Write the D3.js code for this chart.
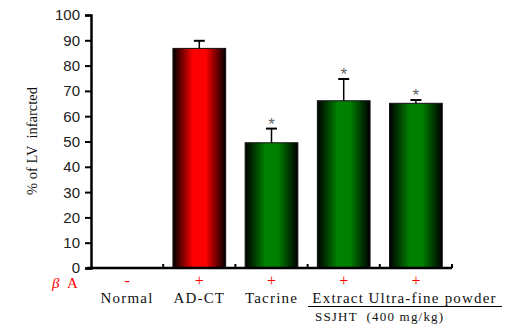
<!DOCTYPE html>
<html>
<head>
<meta charset="utf-8">
<script src="https://cdn.jsdelivr.net/npm/d3@7"></script>
<style>
  body { margin: 0; background: #fff; }
  svg { display: block; }
</style>
</head>
<body>
<div id="chart"></div>
<script>
// data
var groups = ["Normal", "AD-CT", "Tacrine", "Extract", "Ultra-fine powder"];
var betaA = ["-", "+", "+", "+", "+"];
var means = [0, 86.8, 49.5, 66.1, 65.1];
var errors = [0, 3.0, 5.6, 8.6, 1.3];
var colors = ["none", "red", "green", "green", "green"];
var starred = [false, false, true, true, true];
var yTicks = [0, 10, 20, 30, 40, 50, 60, 70, 80, 90, 100];

var width = 505, height = 326;
var margin = { top: 15, right: 53, bottom: 58, left: 91 };
var serif = 'Liberation Serif, Times New Roman, serif';

var svg = d3.select('#chart')
    .append('svg')
    .attr('width', width)
    .attr('height', height);

// horizontal gradients: dark edges, bright middle
var defs = svg.append('defs');
[["red", "#ff0000"], ["green", "#008000"]].forEach(function(c) {
    var g = defs.append('linearGradient')
        .attr('id', 'grad-' + c[0])
        .attr('x1', '0%').attr('x2', '100%')
        .attr('y1', '0%').attr('y2', '0%');
    g.append('stop').attr('offset', '0%').attr('stop-color', '#000');
    g.append('stop').attr('offset', '38%').attr('stop-color', c[1]);
    g.append('stop').attr('offset', '62%').attr('stop-color', c[1]);
    g.append('stop').attr('offset', '100%').attr('stop-color', '#000');
});

var x = d3.scaleBand()
    .domain(groups)
    .range([margin.left, width - margin.right])
    .paddingInner(0.27)
    .paddingOuter(0.135);

var y = d3.scaleLinear()
    .domain([0, 100])
    .range([height - margin.bottom, margin.top]);

// bars
var bars = groups.map(function(g, i) {
    return { name: g, mean: means[i], err: errors[i], color: colors[i], star: starred[i] };
}).filter(function(d) { return d.mean > 0; });

svg.selectAll('.bar')
    .data(bars)
    .enter()
    .append('rect')
    .attr('class', 'bar')
    .attr('x', function(d) { return x(d.name); })
    .attr('width', x.bandwidth())
    .attr('y', function(d) { return y(d.mean); })
    .attr('height', function(d) { return y(0) - y(d.mean); })
    .attr('fill', function(d) { return 'url(#grad-' + d.color + ')'; })
    .attr('stroke', '#111')
    .attr('stroke-width', 1);

// error bars
var cx = function(d) { return x(d.name) + x.bandwidth() / 2; };
svg.selectAll('.err')
    .data(bars)
    .enter()
    .append('line')
    .attr('x1', cx).attr('x2', cx)
    .attr('y1', function(d) { return y(d.mean); })
    .attr('y2', function(d) { return y(d.mean + d.err); })
    .attr('stroke', '#000')
    .attr('stroke-width', 1.5);

svg.selectAll('.cap')
    .data(bars)
    .enter()
    .append('line')
    .attr('x1', function(d) { return cx(d) - 5.5; })
    .attr('x2', function(d) { return cx(d) + 5.5; })
    .attr('y1', function(d) { return y(d.mean + d.err); })
    .attr('y2', function(d) { return y(d.mean + d.err); })
    .attr('stroke', '#000')
    .attr('stroke-width', 2);

svg.selectAll('.star')
    .data(bars.filter(function(d) { return d.star; }))
    .enter()
    .append('text')
    .attr('x', cx)
    .attr('y', function(d) { return y(d.mean + d.err) + 1; })
    .attr('text-anchor', 'middle')
    .attr('font-family', 'Liberation Sans, Arial, sans-serif')
    .attr('font-size', 17)
    .attr('fill', '#666')
    .text('*');

// y axis
var yAxis = d3.axisLeft(y)
    .tickValues(yTicks)
    .tickSize(6)
    .tickPadding(5);

var gy = svg.append('g')
    .attr('transform', 'translate(' + margin.left + ',0)')
    .call(yAxis);
gy.select('.domain').attr('stroke', '#000').attr('stroke-width', 2.5);
gy.selectAll('.tick line').attr('stroke', '#000').attr('stroke-width', 2);
gy.selectAll('.tick text')
    .attr('font-family', 'Liberation Sans, Arial, sans-serif')
    .attr('font-size', 15)
    .attr('fill', '#222')
    .attr('dy', '0.33em');

// x axis: ticks between categories pointing up
var xBounds = groups.map(function(g) { return x(g) - x.step() * x.paddingInner() / 2 + x.step(); });
var gx = svg.append('g');
gx.append('line')
    .attr('x1', margin.left - 4).attr('x2', width - margin.right)
    .attr('y1', y(0)).attr('y2', y(0))
    .attr('stroke', '#000').attr('stroke-width', 2.5);
gx.selectAll('.xt')
    .data(xBounds)
    .enter()
    .append('line')
    .attr('x1', function(d) { return d; }).attr('x2', function(d) { return d; })
    .attr('y1', y(0)).attr('y2', y(0) - 4)
    .attr('stroke', '#000').attr('stroke-width', 2);

// beta A row
svg.append('text')
    .attr('x', 52).attr('y', 288)
    .attr('fill', 'red')
    .attr('font-family', serif)
    .attr('font-size', 15)
    .attr('xml:space', 'preserve')
    .html('<tspan font-style="italic">β</tspan>  A');

svg.selectAll('.sign')
    .data(groups)
    .enter()
    .append('text')
    .attr('x', function(d) { return x(d) + x.bandwidth() / 2; })
    .attr('y', 286)
    .attr('text-anchor', 'middle')
    .attr('fill', 'red')
    .attr('font-family', serif)
    .attr('font-size', 16)
    .text(function(d, i) { return betaA[i]; });

// group names; the last two run to the right under the SSJHT line
svg.selectAll('.name')
    .data(groups)
    .enter()
    .append('text')
    .attr('x', function(d, i) {
        if (i === 3) return x(d) - 5;
        if (i === 4) return x(d) - 21;
        return x(d) + x.bandwidth() / 2;
    })
    .attr('y', 303)
    .attr('text-anchor', function(d, i) { return i >= 3 ? 'start' : 'middle'; })
    .attr('fill', '#111')
    .attr('font-family', serif)
    .attr('font-size', 15)
    .style('letter-spacing', '1.2px')
    .text(function(d) { return d; });

// underline for SSJHT groups
svg.append('line')
    .attr('x1', 308).attr('x2', 502)
    .attr('y1', 306.5).attr('y2', 306.5)
    .attr('stroke', '#000').attr('stroke-width', 1.2);

svg.append('text')
    .attr('x', 315).attr('y', 321)
    .attr('fill', '#111')
    .attr('font-family', serif)
    .attr('font-size', 13)
    .style('letter-spacing', '1.2px')
    .attr('xml:space', 'preserve')
    .text('SSJHT  (400 mg/kg)');

// y label
svg.append('text')
    .attr('transform', 'translate(37,141) rotate(-90)')
    .attr('text-anchor', 'middle')
    .attr('fill', '#111')
    .attr('font-family', serif)
    .attr('font-size', 14.5)
    .attr('xml:space', 'preserve')
    .text('% of LV  infarcted');
</script>
</body>
</html>
